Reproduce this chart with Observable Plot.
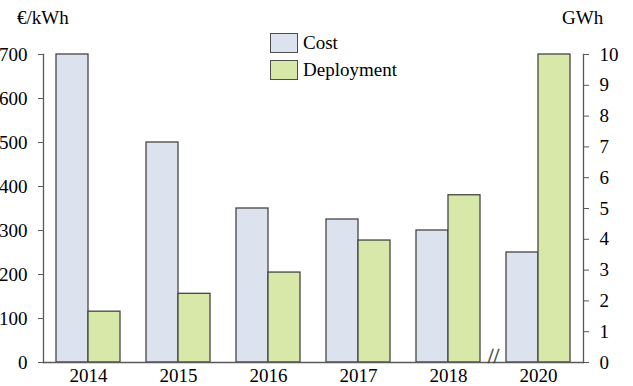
<!DOCTYPE html>
<html>
<head>
<meta charset="utf-8">
<script src="https://cdn.jsdelivr.net/npm/d3@7"></script>
<script src="https://cdn.jsdelivr.net/npm/@observablehq/plot@0.6"></script>
<style>
  html, body { margin: 0; padding: 0; background: #fff; }
  #wrap { position: relative; width: 633px; height: 386px; font-family: "Liberation Serif", serif; }
  #wrap svg { overflow: visible; }
  .lbl { position: absolute; font-size: 19px; line-height: 19px; color: #000; white-space: nowrap; }
  .sw { position: absolute; width: 26px; height: 18px; border: 1.3px solid #4d4d4d; }
</style>
</head>
<body>
<div id="wrap"></div>
<script>
const years = ["2014", "2015", "2016", "2017", "2018", "2020"];
const cost = [700, 500, 350, 325, 300, 250];          // €/kWh
const deployment = [1.65, 2.23, 2.92, 3.96, 5.43, 10]; // GWh
const costTicks = [0, 100, 200, 300, 400, 500, 600, 700];
const gwhTicks = [0, 1, 2, 3, 4, 5, 6, 7, 8, 9, 10];
const seriesNames = ["Cost", "Deployment"];
const colors = ["#dce3ee", "#d7e8a9"];
const leftUnit = "€/kWh";
const rightUnit = "GWh";
const breakBefore = "2020";

const costMax = 700, gwhMax = 10;
const k = costMax / gwhMax; // maps GWh onto the €/kWh scale
const data = years.map((y, i) => ({year: y, cost: cost[i], gwh: deployment[i]}));
const edge = "#454545";

const chart = Plot.plot({
  width: 633,
  height: 386,
  marginLeft: 43,
  marginRight: 50,
  marginTop: 54,
  marginBottom: 24,
  style: {fontFamily: "Liberation Serif", fontSize: "19px", color: "#000", background: "#fff", overflow: "visible"},
  x: {type: "band", domain: years, padding: 0},
  y: {domain: [0, costMax]},
  marks: [
    Plot.barY(data, {x: "year", y: "cost", fill: colors[0], stroke: edge, strokeWidth: 1.3, insetLeft: 13, insetRight: 45}),
    Plot.barY(data, {x: "year", y: d => d.gwh * k, fill: colors[1], stroke: edge, strokeWidth: 1.3, insetLeft: 45, insetRight: 13}),
    Plot.frame({anchor: "left", stroke: "#595959", strokeWidth: 1.3}),
    Plot.frame({anchor: "right", stroke: "#595959", strokeWidth: 1.3}),
    Plot.frame({anchor: "bottom", stroke: "#595959", strokeWidth: 1.3}),
    Plot.axisY({anchor: "left", ticks: costTicks, tickSize: 5, tickPadding: 11, label: null, stroke: "#595959"}),
    Plot.axisY({anchor: "right", ticks: gwhTicks.map(v => v * k), tickFormat: d => String(Math.round(d / k)), tickSize: 5, tickPadding: 11, label: null, stroke: "#595959"}),
    Plot.axisX({tickSize: 0, tickPadding: 6, label: null}),
    Plot.text([breakBefore], {x: d => d, text: () => "//", frameAnchor: "bottom", dx: -45, dy: 0, fontSize: 21, fill: "#404040", stroke: "#404040", strokeWidth: 0.4})
  ]
});

const wrap = document.getElementById("wrap");
wrap.appendChild(chart);

function addLabel(text, left, top) {
  const d = document.createElement("div");
  d.className = "lbl";
  d.textContent = text;
  d.style.left = left + "px";
  d.style.top = top + "px";
  wrap.appendChild(d);
}
addLabel(leftUnit, 17, 8);
addLabel(rightUnit, 562, 8);

seriesNames.forEach((name, i) => {
  const s = document.createElement("div");
  s.className = "sw";
  s.style.left = "270px";
  s.style.top = (33 + i * 27) + "px";
  s.style.background = colors[i];
  wrap.appendChild(s);
  addLabel(name, 303, 33 + i * 27);
});
</script>
</body>
</html>
